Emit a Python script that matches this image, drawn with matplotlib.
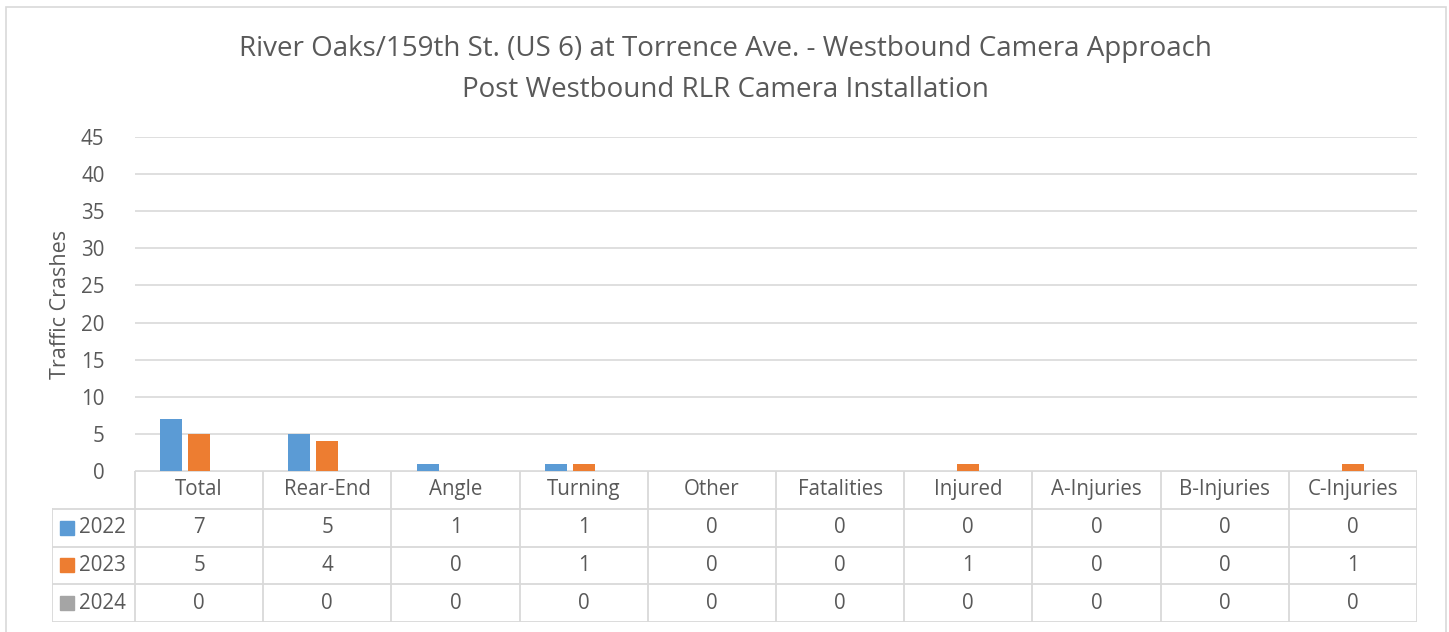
import matplotlib
matplotlib.use("Agg")
import matplotlib.pyplot as plt
from matplotlib.patches import Rectangle
from matplotlib.lines import Line2D

categories = ["Total", "Rear-End", "Angle", "Turning", "Other", "Fatalities",
              "Injured", "A-Injuries", "B-Injuries", "C-Injuries"]
series_names = ["2022", "2023", "2024"]
v2022 = [7, 5, 1, 1, 0, 0, 0, 0, 0, 0]
v2023 = [5, 4, 0, 1, 0, 0, 1, 0, 0, 1]
v2024 = [0, 0, 0, 0, 0, 0, 0, 0, 0, 0]
series_values = [v2022, v2023, v2024]
colors = ["#5B9BD5", "#ED7D31", "#A5A5A5"]
yticks = [0, 5, 10, 15, 20, 25, 30, 35, 40, 45]

title = ("River Oaks/159th St. (US 6) at Torrence Ave. - Westbound Camera Approach\n"
         "Post Westbound RLR Camera Installation")

plt.rcParams['font.family'] = ['Open Sans', 'DejaVu Sans']
TXT = "#595959"
GRID = "#D9D9D9"
FS = 14.8

W, H = 1449, 632
fig = plt.figure(figsize=(W / 100, H / 100), dpi=100)

def fx(px):
    return px / W

def fy(py):
    return 1 - py / H

# outer chart border
fig.patches.append(Rectangle((fx(6), fy(640)), fx(1446) - fx(6), fy(7) - fy(640),
                             transform=fig.transFigure, fill=False,
                             edgecolor=GRID, linewidth=1.2))

# title
fig.text(fx(725), fy(69.5), title, ha="center", va="center", fontsize=20,
         color=TXT, linespacing=1.6)

# main plot axes
L, R, T, B = 135, 1417, 137, 471
ax = fig.add_axes([fx(L), fy(B), fx(R) - fx(L), fy(T) - fy(B)])
n = len(categories)
ax.set_xlim(0, n)
ax.set_ylim(0, 45)
bw = 0.172
step = 0.218
for j, vals in enumerate(series_values):
    xs = [i + 0.5 + (j - 1) * step for i in range(n)]
    ax.bar(xs, vals, width=bw, color=colors[j], zorder=3)
ax.set_yticks(yticks)
ax.set_yticklabels([str(t) for t in yticks])
ax.tick_params(axis="y", length=0, pad=22, labelsize=FS, labelcolor=TXT)
ax.set_xticks([])
for s in ax.spines.values():
    s.set_visible(False)
ax.grid(axis="y", color=GRID, linewidth=1.2, zorder=0)
ax.set_ylabel("Traffic Crashes", fontsize=15.5, color=TXT)
ax.yaxis.set_label_coords(-(135 - 71) / (R - L), 0.5)

# data table
TL, TR, TT, TB = 52, 1417, 471, 622
tax = fig.add_axes([fx(TL), fy(TB), fx(TR) - fx(TL), fy(TT) - fy(TB)])
tax.set_xlim(TL, TR)
tax.set_ylim(TB, TT)
tax.axis("off")
colw = (R - L) / n
rows = [TT + k * (TB - TT) / 4 for k in range(5)]
lw = 1.3
tax.add_line(Line2D([L, R], [rows[0], rows[0]], color=GRID, lw=lw))
for k in range(1, 5):
    tax.add_line(Line2D([TL, R], [rows[k], rows[k]], color=GRID, lw=lw))
for i in range(n + 1):
    x = L + i * colw
    tax.add_line(Line2D([x, x], [rows[0], rows[4]], color=GRID, lw=lw))
tax.add_line(Line2D([TL, TL], [rows[1], rows[4]], color=GRID, lw=lw))

for i, c in enumerate(categories):
    tax.text(L + (i + 0.5) * colw, (rows[0] + rows[1]) / 2, c, ha="center",
             va="center", fontsize=FS, color=TXT)
for j, (name, vals) in enumerate(zip(series_names, series_values)):
    yc = (rows[j + 1] + rows[j + 2]) / 2
    tax.add_patch(Rectangle((60, yc - 7), 14, 14, color=colors[j]))
    tax.text(79, yc, name, ha="left", va="center", fontsize=FS, color=TXT)
    for i, v in enumerate(vals):
        tax.text(L + (i + 0.5) * colw, yc, str(v), ha="center", va="center",
                 fontsize=FS, color=TXT)

fig.savefig("out.png", dpi=100)
